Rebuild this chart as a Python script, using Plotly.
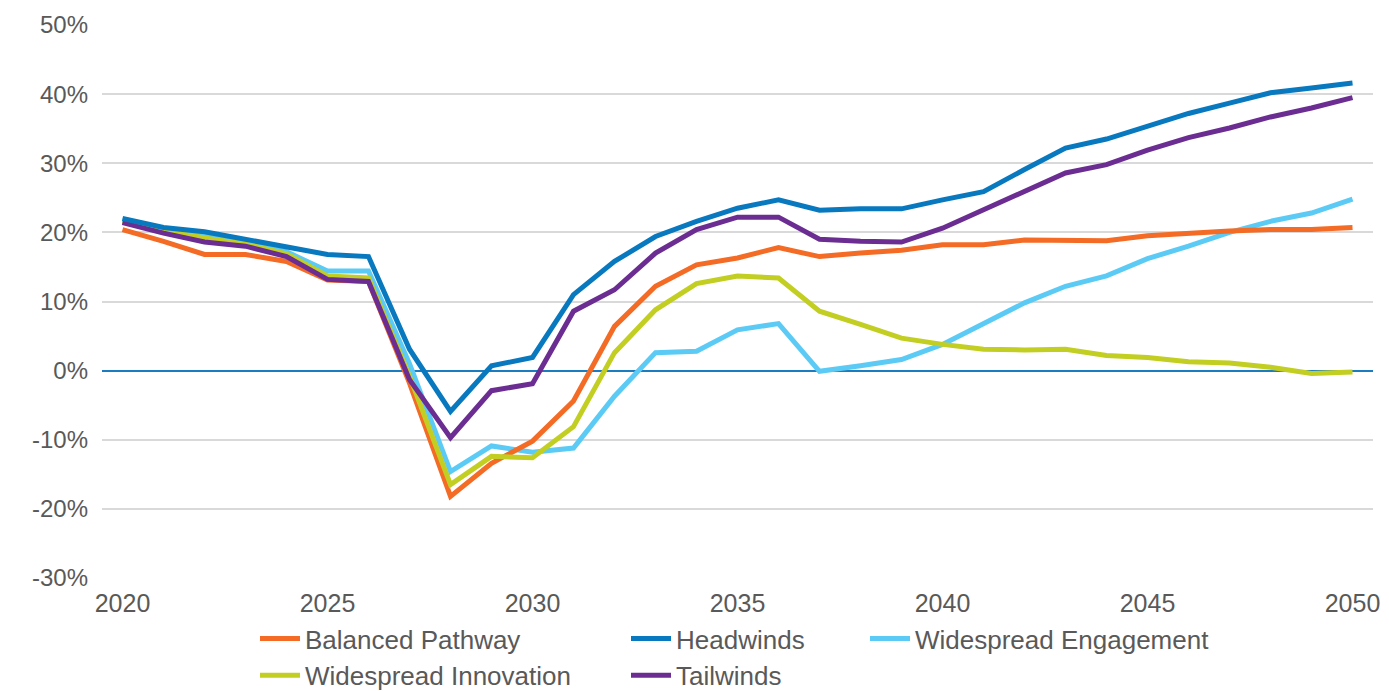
import plotly.graph_objects as go

years = list(range(2020, 2051))

balanced_pathway = [20.4, 18.7, 16.8, 16.8, 15.8, 13.1, 12.9, -1.8, -18.2, -13.4, -10.2, -4.4, 6.4, 12.2, 15.3,
                    16.3, 17.8, 16.5, 17.0, 17.4, 18.2, 18.2, 18.9, 18.9, 18.8, 19.5, 19.9, 20.2, 20.4, 20.4, 20.7]
headwinds = [22.0, 20.7, 20.1, 19.0, 18.0, 16.8, 16.5, 3.1, -5.9, 0.7, 1.9, 11.0, 15.8, 19.4, 21.6,
             23.5, 24.7, 23.2, 23.4, 23.4, 24.7, 25.9, 29.1, 32.2, 33.5, 35.4, 37.2, 38.7, 40.2, 40.9, 41.6]
widespread_engagement = [21.8, 20.5, 19.6, 18.6, 17.2, 14.4, 14.4, 1.0, -14.6, -10.9, -11.8, -11.2, -3.7, 2.6, 2.8,
                         5.9, 6.8, -0.1, 0.7, 1.6, 3.8, 6.9, 9.8, 12.2, 13.7, 16.2, 18.0, 20.0, 21.6, 22.8, 24.8]
widespread_innovation = [21.6, 20.3, 19.2, 18.3, 16.9, 13.7, 13.4, -0.8, -16.5, -12.4, -12.6, -8.1, 2.6, 8.8, 12.6,
                         13.7, 13.4, 8.6, 6.7, 4.7, 3.8, 3.1, 3.0, 3.1, 2.2, 1.9, 1.3, 1.1, 0.5, -0.4, -0.2]
tailwinds = [21.4, 19.9, 18.6, 18.0, 16.5, 13.2, 12.9, -1.3, -9.7, -2.9, -1.9, 8.6, 11.7, 17.0, 20.4,
             22.2, 22.2, 19.0, 18.7, 18.6, 20.6, 23.3, 25.9, 28.6, 29.8, 31.9, 33.7, 35.1, 36.7, 38.0, 39.5]

x_ticks = [2020, 2025, 2030, 2035, 2040, 2045, 2050]
y_ticks = [-30, -20, -10, 0, 10, 20, 30, 40, 50]
y_tick_labels = ["-30%", "-20%", "-10%", "0%", "10%", "20%", "30%", "40%", "50%"]

# name, values, colour, legend box, rank inside legend box
series = [
    ("Widespread Engagement", widespread_engagement, "#5BCBF5", "legend3", 1),
    ("Balanced Pathway", balanced_pathway, "#F36B24", "legend", 1),
    ("Widespread Innovation", widespread_innovation, "#C2CF22", "legend", 2),
    ("Tailwinds", tailwinds, "#6B2D91", "legend2", 2),
    ("Headwinds", headwinds, "#0878BF", "legend2", 1),
]

fig = go.Figure()
for name, vals, color, leg, rank in series:
    fig.add_trace(go.Scatter(x=years, y=vals, name=name, mode="lines",
                             line=dict(color=color, width=5), legend=leg, legendrank=rank))

W, H = 1381, 683
font_color = "#595959"
legend_common = dict(orientation="v", xref="container", yref="container", yanchor="top", xanchor="left",
                     font=dict(family="Liberation Sans, Arial", size=26, color=font_color),
                     bgcolor="rgba(0,0,0,0)", itemwidth=40, tracegroupgap=0)

fig.update_layout(
    width=W, height=H,
    margin=dict(l=94, r=16, t=17, b=113, autoexpand=False),
    paper_bgcolor="white", plot_bgcolor="white",
    font=dict(family="Liberation Sans, Arial", size=24, color=font_color),
    xaxis=dict(range=[2019.5, 2050.5], tickvals=x_ticks, showgrid=False, zeroline=False,
               showline=False, ticks="", tickfont=dict(size=25), automargin=False,
               ticklabelstandoff=8),
    yaxis=dict(range=[-30, 50], tickvals=y_ticks, ticktext=y_tick_labels, showgrid=True,
               gridcolor="#D9D9D9", gridwidth=1.5, zeroline=True, zerolinecolor="#1B7CC0",
               zerolinewidth=2, showline=False, ticks="", tickfont=dict(size=24), automargin=False,
               ticklabelstandoff=13),
    legend=dict(x=247 / W, y=1 - 607 / H, **legend_common),
    legend2=dict(x=618 / W, y=1 - 607 / H, **legend_common),
    legend3=dict(x=857 / W, y=1 - 607 / H, **legend_common),
)

fig.write_html("out.html")
